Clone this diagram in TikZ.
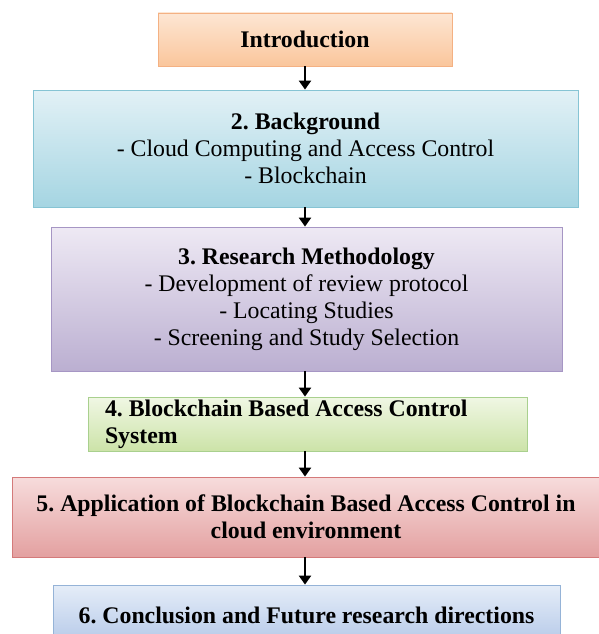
\documentclass[tikz,border=0pt]{standalone}
\usepackage{fontspec}
\setmainfont{Liberation Serif}
\usetikzlibrary{arrows.meta}
\frenchspacing
\definecolor{inT}{HTML}{FDE6D3}\definecolor{inB}{HTML}{FAC69C}\definecolor{inD}{HTML}{F4B183}
\definecolor{bgT}{HTML}{E2F1F6}\definecolor{bgB}{HTML}{A5D5E2}\definecolor{bgD}{HTML}{86C4D4}
\definecolor{rmT}{HTML}{EEE9F4}\definecolor{rmB}{HTML}{BBAFD1}\definecolor{rmD}{HTML}{A696C4}
\definecolor{bcT}{HTML}{F0F7E4}\definecolor{bcB}{HTML}{CCE3A8}\definecolor{bcD}{HTML}{A9D08E}
\definecolor{apT}{HTML}{F7DCDC}\definecolor{apB}{HTML}{E3A0A0}\definecolor{apD}{HTML}{D47A7A}
\definecolor{coT}{HTML}{E5EDF8}\definecolor{coB}{HTML}{B4C8E8}\definecolor{coD}{HTML}{95B3D7}
\begin{document}
\begin{tikzpicture}[x=1pt,y=-1pt,
  box/.style={rectangle, inner sep=0pt, align=center, line width=0.8pt,
    font=\fontsize{23.8}{27}\selectfont\frenchspacing},
  arr/.style={line width=2.8pt, -{Triangle[length=9pt,width=12pt]}}]
\useasboundingbox (0,0) rectangle (598,634);
\node[box, draw=inD, top color=inT, bottom color=inB, minimum width=294pt, minimum height=53pt]
  (intro) at (305,39.5) {\bfseries Introduction};
\node[box, draw=bgD, top color=bgT, bottom color=bgB, minimum width=545pt, minimum height=117pt]
  (bg) at (305.5,148.5) {\bfseries 2. Background\\- Cloud Computing and Access Control\\- Blockchain};
\node[box, draw=rmD, top color=rmT, bottom color=rmB, minimum width=511pt, minimum height=144pt]
  (rm) at (306.5,299) {\bfseries 3. Research Methodology\\- Development of review protocol\\- Locating Studies\\- Screening and Study Selection};
\node[box, draw=bcD, top color=bcT, bottom color=bcB, minimum width=439pt, minimum height=54pt,
  text width=405pt, align=flush left]
  (bc) at (307.5,424) {\bfseries 4. Blockchain Based Access Control\\System};
\node[box, draw=apD, top color=apT, bottom color=apB, minimum width=588pt, minimum height=80pt]
  (ap) at (306,517) {\bfseries 5. Application of Blockchain Based Access Control in\\\bfseries cloud environment};
\node[box, draw=coD, top color=coT, bottom color=coB, minimum width=507pt, minimum height=60pt]
  (co) at (306.5,615) {\bfseries 6. Conclusion and Future research directions};
\draw[arr] (intro.south) -- (intro.south |- bg.north);
\draw[arr] (bg.south -| intro.south) -- (intro.south |- rm.north);
\draw[arr] (rm.south -| intro.south) -- (intro.south |- bc.north);
\draw[arr] (bc.south -| intro.south) -- (intro.south |- ap.north);
\draw[arr] (ap.south -| intro.south) -- (intro.south |- co.north);
\end{tikzpicture}
\end{document}
